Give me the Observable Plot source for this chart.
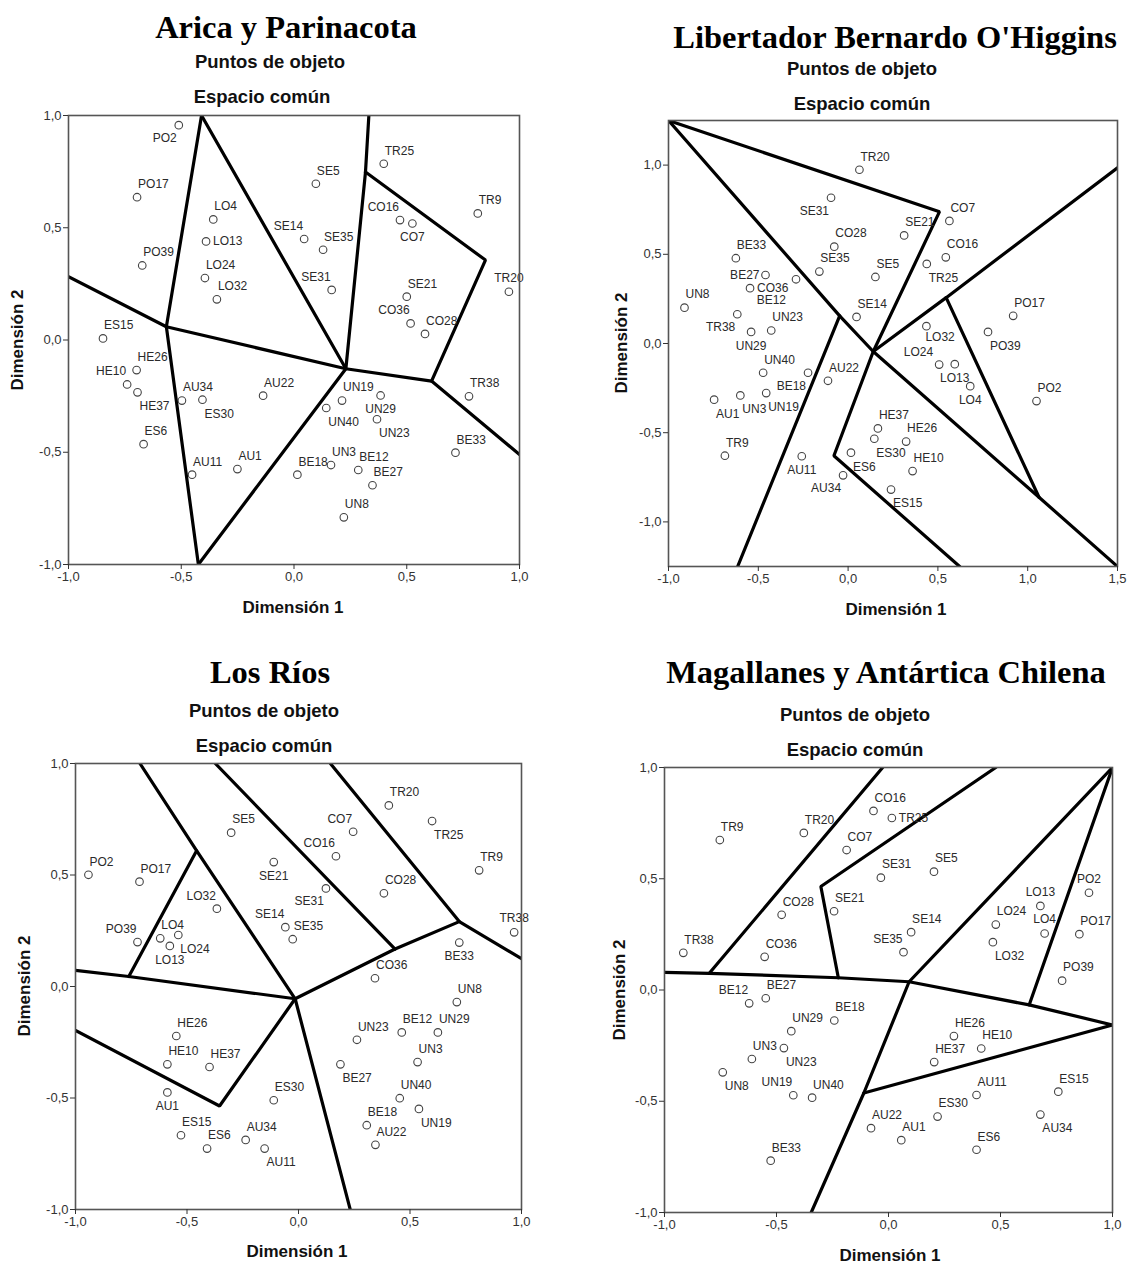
<!DOCTYPE html>
<html><head><meta charset="utf-8">
<script src="https://cdn.jsdelivr.net/npm/d3@7"></script>
<script src="https://cdn.jsdelivr.net/npm/@observablehq/plot@0.6"></script>
<style>
body{margin:0;background:#fff;}
#root{position:relative;width:1128px;height:1264px;overflow:hidden;font-family:"Liberation Sans",Arial,sans-serif;}
.t{position:absolute;white-space:nowrap;transform:translate(-50%,-50%);color:#000;}
.title{font-family:"Liberation Serif","Times New Roman",serif;font-weight:bold;font-size:32.5px;}
.sub{font-weight:bold;font-size:18.5px;color:#111;}
.ax{font-weight:bold;font-size:17px;color:#111;}
.rot{transform:translate(-50%,-50%) rotate(-90deg);}
</style>
</head><body><div id="root"></div>
<script>
// ---------- Data ----------
const names1 = ["PO2","PO17","PO39","LO4","LO13","LO24","LO32","SE5","SE14","SE35","SE31","SE21","TR25","CO16","CO7","TR9","TR20","CO36","CO28","ES15","HE26","HE10","HE37","AU34","ES30","AU22","ES6","AU11","AU1","UN19","UN40","UN29","UN23","TR38","BE33","BE18","UN3","BE12","BE27","UN8"];
const dim1_1 = [-0.511,-0.696,-0.673,-0.358,-0.390,-0.395,-0.342,0.097,0.045,0.129,0.167,0.500,0.398,0.470,0.525,0.815,0.953,0.517,0.581,-0.847,-0.698,-0.740,-0.694,-0.497,-0.406,-0.137,-0.667,-0.452,-0.251,0.213,0.143,0.384,0.368,0.776,0.716,0.015,0.164,0.285,0.348,0.221];
const dim2_1 = [0.957,0.636,0.332,0.537,0.439,0.276,0.181,0.696,0.450,0.402,0.223,0.193,0.785,0.534,0.519,0.564,0.215,0.074,0.027,0.007,-0.134,-0.198,-0.233,-0.270,-0.266,-0.248,-0.464,-0.600,-0.575,-0.270,-0.303,-0.247,-0.353,-0.251,-0.502,-0.600,-0.557,-0.579,-0.647,-0.790];
const lines1 = [
  [[-1,0.282],[-0.566,0.059],[0.230,-0.128],[0.610,-0.183],[1,-0.510]],
  [[-0.410,1],[-0.566,0.059],[-0.424,-1]],
  [[-0.410,1],[0.230,-0.128],[-0.424,-1]],
  [[0.332,1],[0.317,0.748],[0.230,-0.128]],
  [[0.317,0.748],[0.849,0.356],[0.610,-0.183]]
];

const names2 = ["TR20","SE31","CO7","SE21","CO28","CO16","BE33","SE35","SE5","TR25","BE27","CO36","BE12","UN8","TR38","UN29","UN23","SE14","LO32","PO17","PO39","LO24","LO13","LO4","PO2","UN40","BE18","AU22","UN3","UN19","AU1","TR9","AU11","AU34","HE37","ES30","HE26","ES6","HE10","ES15"];
const dim1_2 = [0.063,-0.095,0.564,0.312,-0.077,0.544,-0.625,-0.160,0.152,0.438,-0.460,-0.546,-0.290,-0.911,-0.617,-0.540,-0.428,0.047,0.436,0.919,0.779,0.507,0.594,0.680,1.049,-0.473,-0.223,-0.112,-0.600,-0.456,-0.746,-0.686,-0.258,-0.028,0.166,0.146,0.323,0.016,0.359,0.239];
const dim2_2 = [0.974,0.817,0.687,0.606,0.543,0.483,0.478,0.403,0.373,0.446,0.384,0.310,0.360,0.201,0.164,0.065,0.073,0.149,0.097,0.155,0.065,-0.118,-0.116,-0.239,-0.323,-0.164,-0.164,-0.209,-0.291,-0.278,-0.315,-0.629,-0.632,-0.739,-0.476,-0.534,-0.550,-0.612,-0.715,-0.819];
const lines2 = [
  [[-1,1.25],[-0.047,0.155],[0.140,-0.045],[1.063,-0.862],[1.5,-1.25]],
  [[-1,1.25],[0.509,0.739],[0.140,-0.045],[-0.079,-0.629],[0.621,-1.25]],
  [[-0.047,0.155],[-0.615,-1.25]],
  [[0.140,-0.045],[0.546,0.257],[1.5,0.985]],
  [[0.546,0.257],[1.063,-0.862]]
];

const names3 = ["TR20","TR25","SE5","CO7","CO16","TR9","PO2","PO17","SE21","CO28","SE31","LO32","SE14","SE35","TR38","BE33","PO39","LO4","LO24","LO13","CO36","UN8","BE12","UN29","UN23","UN3","BE27","HE26","HE10","HE37","AU1","ES30","UN40","UN19","BE18","AU22","ES15","ES6","AU34","AU11"];
const dim1_3 = [0.405,0.599,-0.302,0.245,0.168,0.810,-0.942,-0.713,-0.111,0.383,0.123,-0.366,-0.059,-0.026,0.967,0.721,-0.722,-0.620,-0.539,-0.577,0.343,0.710,0.463,0.625,0.262,0.534,0.188,-0.548,-0.588,-0.399,-0.588,-0.111,0.454,0.540,0.306,0.345,-0.527,-0.410,-0.237,-0.152];
const dim2_3 = [0.812,0.742,0.690,0.694,0.584,0.521,0.501,0.470,0.558,0.418,0.440,0.349,0.266,0.212,0.243,0.197,0.199,0.216,0.231,0.182,0.037,-0.070,-0.206,-0.206,-0.239,-0.339,-0.349,-0.222,-0.349,-0.361,-0.475,-0.510,-0.501,-0.549,-0.622,-0.710,-0.667,-0.727,-0.688,-0.727];
const lines3 = [
  [[-0.711,1],[-0.457,0.609],[-0.015,-0.055],[0.232,-1]],
  [[-0.457,0.609],[-0.761,0.045]],
  [[-1,0.072],[-0.761,0.045],[-0.015,-0.055],[0.433,0.168],[0.721,0.291],[1,0.125]],
  [[-1,-0.197],[-0.354,-0.536],[-0.015,-0.055]],
  [[-0.373,1],[0.433,0.168]],
  [[0.143,1],[0.721,0.291]]
];

const names4 = ["CO16","TR25","TR20","TR9","CO7","SE31","SE5","PO2","LO13","SE21","CO28","LO24","SE14","LO4","PO17","LO32","SE35","TR38","CO36","PO39","BE12","BE27","BE18","UN29","UN3","UN23","UN8","UN19","UN40","BE33","HE26","HE10","HE37","AU11","ES15","ES30","AU34","AU22","AU1","ES6"];
const dim1_4 = [-0.067,0.015,-0.378,-0.753,-0.187,-0.034,0.203,0.895,0.678,-0.243,-0.477,0.479,0.101,0.697,0.852,0.466,0.067,-0.916,-0.553,0.775,-0.622,-0.548,-0.242,-0.434,-0.610,-0.467,-0.740,-0.425,-0.341,-0.526,0.292,0.414,0.204,0.393,0.758,0.219,0.678,-0.078,0.057,0.393];
const dim2_4 = [0.805,0.773,0.706,0.674,0.629,0.505,0.532,0.437,0.378,0.354,0.338,0.294,0.260,0.254,0.251,0.215,0.170,0.167,0.149,0.042,-0.060,-0.037,-0.137,-0.185,-0.310,-0.261,-0.370,-0.473,-0.484,-0.767,-0.207,-0.263,-0.324,-0.472,-0.457,-0.569,-0.560,-0.621,-0.675,-0.718];
const lines4 = [
  [[-1,0.079],[-0.800,0.075],[-0.224,0.055],[0.092,0.037],[0.628,-0.067],[1,-0.157]],
  [[-0.026,1],[-0.800,0.075]],
  [[0.479,1],[-0.302,0.465],[-0.224,0.055]],
  [[1,1],[0.092,0.037],[-0.110,-0.463],[-0.345,-1]],
  [[1,1],[0.628,-0.067]],
  [[-0.110,-0.463],[1,-0.157]]
];

const ticksStd = [-1,-0.5,0,0.5,1];
const ticksX2 = [-1,-0.5,0,0.5,1,1.5];

// label placement (layout only)
const labelSide1 = ["sw","ne","ne","ne","e","ne","ne","ne","nw","ne","nw","ne","ne","nw","s","ne","n","nw","ne","ne","ne","nw","se","ne","se","ne","ne","ne","ne","ne","se","s","se","ne","ne","ne","ne","ne","ne","ne"];
const labelSide2 = ["ne","sw","ne","ne","ne","ne","ne","ne","ne","se","w","e","ssw","ne","sw","s","ne","ne","se2","ne","se","nw2","s","s","ne","ne","sw","ne","se","se","se","ne","s","sw","ne","se","ne","se","ne","se"];
const labelSide3 = ["ne","se","ne","nw","nw","ne","ne","ne","s","ne","sw","nw","nw","ne","n","s","nw","ne","se","s","ne","ne","ne","ne","ne","ne","se","ne","ne","ne","s","ne","ne","se","ne","ne","ne","ne","ne","se"];
const labelSide4 = ["ne","e","ne","ne","ne","ne","ne","n","n","ne","ne","ne","ne","n","ne","se","nw","ne","ne","ne","nw","ne","ne","ne","ne","se","se","nw","ne","ne","ne","ne","ne","ne","ne","ne","se","ne","ne","ne"];

// ---------- Drawing ----------
const fmt = d => d.toFixed(1).replace(".", ",");
const OFF = {
  ne:{dx:1,dy:-13,a:"start"}, n:{dx:0,dy:-14,a:"middle"}, nw:{dx:-1,dy:-13,a:"end"},
  e:{dx:7,dy:0,a:"start"}, w:{dx:-6,dy:0,a:"end"},
  se:{dx:2,dy:14,a:"start"}, s:{dx:0,dy:14,a:"middle"}, sw:{dx:-2,dy:13,a:"end"},
  ssw:{dx:-10,dy:21,a:"end"}, se2:{dx:-1,dy:11,a:"start"}, nw2:{dx:-6,dy:-12,a:"end"}
};
const root = document.getElementById("root");

function addText(cls, txt, x, y){
  const d = document.createElement("div");
  d.className = "t " + cls; d.textContent = txt;
  d.style.left = x + "px"; d.style.top = y + "px";
  root.appendChild(d);
}

function panel(o){
  const [fl, ft, fr, fb] = o.frame;
  const ML = 50, MR = 14, MT = 10, MB = 30;
  const rows = o.names.map((n,i)=>({name:n, x:o.xs[i], y:o.ys[i], side:o.side[i]}));
  const seg = o.lines.flatMap((pl,k)=>pl.map(([x,y])=>({x, y, k})));
  const labels = Object.entries(OFF).map(([code,f]) =>
    Plot.text(rows.filter(r=>r.side===code), {x:"x", y:"y", text:"name", dx:f.dx, dy:f.dy, textAnchor:f.a, fontSize:12, fill:"#2a2a2a"}));
  const svg = Plot.plot({
    width: fr - fl + ML + MR, height: fb - ft + MT + MB,
    marginLeft: ML, marginRight: MR, marginTop: MT, marginBottom: MB,
    x: {domain: o.xd}, y: {domain: o.yd},
    style: {fontFamily: "'Liberation Sans', Arial, sans-serif", fontSize: "13px", color: "#333", background: "transparent", overflow: "visible"},
    marks: [
      Plot.line(seg, {x:"x", y:"y", z:"k", stroke:"#000", strokeWidth:3.2, strokeLinejoin:"miter", clip:true}),
      Plot.dot(rows, {x:"x", y:"y", r:3.8, stroke:"#444", strokeWidth:1.1, fill:"none"}),
      ...labels,
      Plot.frame({stroke:"#555", strokeWidth:1.6}),
      Plot.axisX({ticks:o.xt, tickFormat:fmt, tickSize:5, tickPadding:2, label:null}),
      Plot.axisY({ticks:o.yt, tickFormat:fmt, tickSize:5, tickPadding:2, label:null})
    ]
  });
  svg.style.position = "absolute";
  svg.style.left = (fl - ML) + "px";
  svg.style.top = (ft - MT) + "px";
  root.appendChild(svg);
}

panel({names:names1, xs:dim1_1, ys:dim2_1, side:labelSide1, lines:lines1, xd:[-1,1], yd:[-1,1], xt:ticksStd, yt:ticksStd, frame:[68,115,519,564]});
panel({names:names2, xs:dim1_2, ys:dim2_2, side:labelSide2, lines:lines2, xd:[-1,1.5], yd:[-1.25,1.25], xt:ticksX2, yt:ticksStd, frame:[668,120,1117,566]});
panel({names:names3, xs:dim1_3, ys:dim2_3, side:labelSide3, lines:lines3, xd:[-1,1], yd:[-1,1], xt:ticksStd, yt:ticksStd, frame:[75,763,521,1209]});
panel({names:names4, xs:dim1_4, ys:dim2_4, side:labelSide4, lines:lines4, xd:[-1,1], yd:[-1,1], xt:ticksStd, yt:ticksStd, frame:[664,767,1112,1212]});

addText("title","Arica y Parinacota",286,27);
addText("sub","Puntos de objeto",270,62);
addText("sub","Espacio común",262,97);
addText("ax rot","Dimensión 2",18,340);
addText("ax","Dimensión 1",293,608);

addText("title","Libertador Bernardo O'Higgins",895,37);
addText("sub","Puntos de objeto",862,69);
addText("sub","Espacio común",862,104);
addText("ax rot","Dimensión 2",622,343);
addText("ax","Dimensión 1",896,610);

addText("title","Los Ríos",270,672);
addText("sub","Puntos de objeto",264,711);
addText("sub","Espacio común",264,746);
addText("ax rot","Dimensión 2",25,986);
addText("ax","Dimensión 1",297,1252);

addText("title","Magallanes y Antártica Chilena",886,672);
addText("sub","Puntos de objeto",855,715);
addText("sub","Espacio común",855,750);
addText("ax rot","Dimensión 2",620,990);
addText("ax","Dimensión 1",890,1256);
</script>
</body></html>
